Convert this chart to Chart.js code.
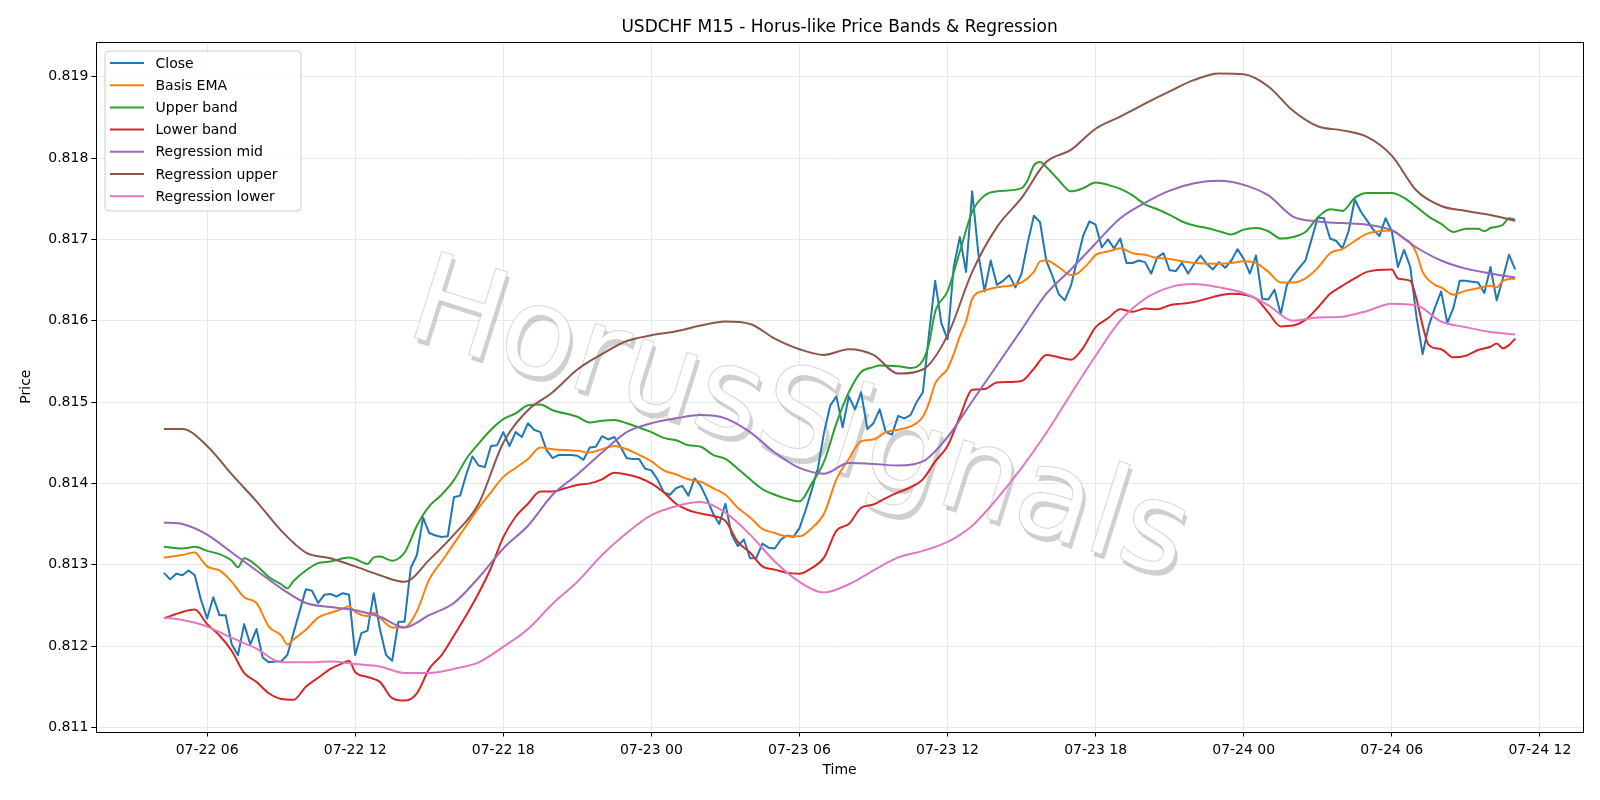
<!DOCTYPE html>
<html>
<head>
<meta charset="utf-8">
<title>USDCHF M15 - Horus-like Price Bands & Regression</title>
<script src="https://cdn.jsdelivr.net/npm/chart.js@4.4.0/dist/chart.umd.min.js"></script>
<style>
  html, body { margin: 0; padding: 0; background: #fff; }
  #wrap { width: 1600px; height: 800px; }
</style>
</head>
<body>
<div id="wrap"><canvas id="chart" width="1600" height="800"></canvas></div>
<script>
// time axis: hours counted from 07-22 00:00, one bar every 15 minutes
const closeStartHour = 4.25;
const barHours = 0.25;

const xTickHours = [6, 12, 18, 24, 30, 36, 42, 48, 54, 60];
const xTickLabels = ['07-22 06', '07-22 12', '07-22 18', '07-23 00', '07-23 06',
                     '07-23 12', '07-23 18', '07-24 00', '07-24 06', '07-24 12'];
const yTickVals = [0.811, 0.812, 0.813, 0.814, 0.815, 0.816, 0.817, 0.818, 0.819];
const yTickLabels = ['0.811', '0.812', '0.813', '0.814', '0.815', '0.816', '0.817', '0.818', '0.819'];

const closeVals = [
  0.81290,0.81282,0.81289,0.81287,0.81293,0.81287,0.81257,0.81234,0.81260,0.81238,
  0.81238,0.81202,0.81189,0.81227,0.81202,0.81221,0.81186,0.81180,0.81181,0.81181,
  0.81189,0.81216,0.81243,0.81270,0.81268,0.81253,0.81263,0.81264,0.81261,0.81265,
  0.81263,0.81189,0.81216,0.81219,0.81265,0.81221,0.81189,0.81182,0.81230,0.81230,
  0.81296,0.81312,0.81358,0.81339,0.81336,0.81334,0.81335,0.81383,0.81385,0.81411,
  0.81433,0.81422,0.81420,0.81446,0.81447,0.81463,0.81446,0.81463,0.81457,0.81474,
  0.81466,0.81463,0.81441,0.81431,0.81435,0.81435,0.81435,0.81434,0.81429,0.81444,
  0.81445,0.81458,0.81454,0.81457,0.81445,0.81431,0.81430,0.81430,0.81418,0.81416,
  0.81405,0.81389,0.81386,0.81394,0.81397,0.81385,0.81406,0.81397,0.81381,0.81363,
  0.81350,0.81375,0.81337,0.81323,0.81331,0.81308,0.81308,0.81326,0.81321,0.81320,
  0.81331,0.81336,0.81334,0.81345,0.81367,0.81392,0.81419,0.81463,0.81496,0.81507,
  0.81469,0.81507,0.81491,0.81512,0.81467,0.81474,0.81491,0.81463,0.81460,0.81483,
  0.81480,0.81484,0.81500,0.81512,0.81584,0.81649,0.81597,0.81577,0.81666,0.81703,
  0.81660,0.81759,0.81682,0.81636,0.81674,0.81644,0.81649,0.81656,0.81641,0.81658,
  0.81696,0.81729,0.81721,0.81674,0.81655,0.81633,0.81625,0.81643,0.81674,0.81705,
  0.81722,0.81718,0.81690,0.81700,0.81689,0.81701,0.81671,0.81671,0.81674,0.81672,
  0.81658,0.81678,0.81683,0.81662,0.81661,0.81671,0.81658,0.81670,0.81680,0.81670,
  0.81663,0.81672,0.81665,0.81674,0.81688,0.81676,0.81658,0.81680,0.81627,0.81626,
  0.81638,0.81608,0.81644,0.81655,0.81665,0.81674,0.81700,0.81727,0.81726,0.81701,
  0.81698,0.81689,0.81710,0.81749,0.81734,0.81723,0.81712,0.81704,0.81726,0.81710,
  0.81666,0.81687,0.81666,0.81605,0.81559,0.81594,0.81616,0.81636,0.81597,0.81616,
  0.81649,0.81649,0.81648,0.81647,0.81634,0.81666,0.81625,0.81652,0.81681,0.81663
];

const basisHours = [4.25,5,5.5,5.75,6,6.5,7,7.5,8,8.5,9,9.25,9.5,10,10.5,11,11.5,11.75,12,12.5,
  12.75,13,13.5,14,14.5,15,15.5,16,16.5,17,17.5,18,18.5,19,19.5,20,21,21.5,22,22.5,
  23,23.5,24,24.5,25,25.5,26,26.5,27,27.5,28,28.5,29,29.5,30,30.5,31,31.5,32,32.5,
  33,33.5,34,34.5,35,35.25,35.5,36,36.25,36.5,36.75,37,37.5,38,38.5,39,39.5,39.75,40,40.5,
  41,41.25,41.75,42,42.5,43,43.5,44,44.5,45,45.5,46,47,47.5,48,48.5,49,49.5,50,50.5,
  51,51.5,52,52.5,53,53.5,54,54.5,54.75,55,55.25,55.75,56,56.5,57,57.5,58,58.25,58.5,59];
const basisVals = [0.81309,0.81312,0.81315,0.81307,0.81298,0.81293,0.81279,0.81260,0.81253,0.81224,
  0.81213,0.81202,0.81208,0.81220,0.81235,0.81241,0.81246,0.81249,0.81242,0.81237,
  0.81241,0.81235,0.81223,0.81223,0.81243,0.81282,0.81304,0.81326,0.81348,0.81370,
  0.81389,0.81408,0.81419,0.81430,0.81444,0.81442,0.81440,0.81438,0.81442,0.81446,
  0.81442,0.81435,0.81427,0.81416,0.81411,0.81405,0.81402,0.81394,0.81386,0.81370,
  0.81358,0.81344,0.81339,0.81335,0.81335,0.81345,0.81363,0.81405,0.81430,0.81452,
  0.81454,0.81463,0.81466,0.81470,0.81482,0.81499,0.81523,0.81541,0.81559,0.81581,
  0.81599,0.81627,0.81637,0.81641,0.81643,0.81647,0.81660,0.81673,0.81674,0.81666,
  0.81656,0.81658,0.81672,0.81681,0.81685,0.81689,0.81683,0.81681,0.81677,0.81676,
  0.81673,0.81671,0.81670,0.81671,0.81673,0.81671,0.81660,0.81647,0.81647,0.81652,
  0.81665,0.81683,0.81688,0.81698,0.81707,0.81710,0.81711,0.81701,0.81696,0.81683,
  0.81660,0.81644,0.81641,0.81632,0.81637,0.81640,0.81643,0.81641,0.81649,0.81652];

const upperHours = [4.25,5,5.5,6,6.5,7,7.25,7.5,8,8.5,9,9.25,9.5,10,10.5,11,11.75,12,12.5,12.75,
  13,13.5,14,14.5,15,15.5,16,16.5,17,17.5,18,18.5,19,19.5,20,21,21.5,22,22.5,23,
  24,24.5,25,25.5,26,26.5,27,27.5,28,28.5,29,29.5,30,30.5,31,31.5,32,32.5,33,33.25,
  34,34.5,35,35.25,35.5,36,36.5,37,37.5,38,39,39.25,39.5,39.75,40,40.5,41,41.5,42,42.5,
  43,43.5,44,44.5,45,45.5,46,46.5,47,47.5,48,48.5,49,49.5,50,50.5,51,51.5,52,52.5,
  53,53.5,54,54.5,55,55.5,56,56.5,57,57.5,57.75,58,58.5,58.75,59];
const upperVals = [0.81322,0.81320,0.81322,0.81317,0.81313,0.81305,0.81297,0.81308,0.81299,0.81285,
  0.81276,0.81271,0.81280,0.81293,0.81302,0.81304,0.81309,0.81307,0.81301,0.81309,
  0.81310,0.81305,0.81315,0.81348,0.81372,0.81386,0.81404,0.81430,0.81449,0.81466,
  0.81479,0.81486,0.81496,0.81497,0.81490,0.81482,0.81475,0.81477,0.81478,0.81474,
  0.81463,0.81456,0.81453,0.81447,0.81445,0.81435,0.81430,0.81418,0.81405,0.81393,
  0.81386,0.81381,0.81378,0.81400,0.81427,0.81474,0.81512,0.81537,0.81543,0.81545,
  0.81544,0.81542,0.81551,0.81572,0.81611,0.81636,0.81685,0.81734,0.81754,0.81759,
  0.81763,0.81773,0.81791,0.81795,0.81789,0.81773,0.81759,0.81763,0.81770,0.81767,
  0.81762,0.81754,0.81743,0.81737,0.81730,0.81722,0.81717,0.81714,0.81710,0.81706,
  0.81712,0.81714,0.81710,0.81701,0.81703,0.81709,0.81727,0.81737,0.81735,0.81751,
  0.81757,0.81757,0.81757,0.81751,0.81740,0.81728,0.81719,0.81709,0.81713,0.81713,
  0.81710,0.81714,0.81718,0.81726,0.81724];

const lowerHours = [4.25,5,5.5,6,6.5,7,7.5,8,8.5,9,9.5,10,10.5,11,11.5,11.75,12,12.5,13,13.5,
  14,14.5,15,15.5,16,16.5,17,17.5,18,18.5,19,19.5,20,20.5,21,21.5,22,22.5,23,23.5,
  24,24.5,25,25.5,26,26.5,27,27.5,28,28.5,29,29.5,30,30.5,31,31.5,32,32.5,33,33.5,
  34,34.5,35,35.5,36,36.5,37,37.5,38,39,39.5,40,40.5,41,41.5,42,42.5,43,43.5,44,
  44.5,45,45.5,46,46.5,47,47.5,48,48.5,49,49.5,50,50.5,51,51.5,52,52.5,53,54,54.25,
  54.75,55,55.25,55.5,56,56.5,57,57.5,58,58.25,58.5,58.75,59];
const lowerVals = [0.81234,0.81242,0.81245,0.81227,0.81213,0.81194,0.81167,0.81156,0.81142,0.81135,
  0.81134,0.81150,0.81161,0.81172,0.81179,0.81182,0.81168,0.81162,0.81156,0.81136,
  0.81133,0.81142,0.81172,0.81189,0.81213,0.81238,0.81265,0.81296,0.81334,0.81359,
  0.81375,0.81390,0.81390,0.81394,0.81398,0.81400,0.81405,0.81413,0.81411,0.81407,
  0.81400,0.81389,0.81375,0.81367,0.81363,0.81360,0.81354,0.81328,0.81315,0.81298,
  0.81294,0.81290,0.81289,0.81296,0.81309,0.81342,0.81350,0.81370,0.81374,0.81382,
  0.81389,0.81395,0.81405,0.81427,0.81446,0.81482,0.81515,0.81516,0.81524,0.81526,
  0.81541,0.81558,0.81555,0.81552,0.81567,0.81592,0.81603,0.81614,0.81611,0.81615,
  0.81614,0.81619,0.81621,0.81623,0.81627,0.81631,0.81633,0.81632,0.81627,0.81610,
  0.81593,0.81594,0.81601,0.81616,0.81633,0.81643,0.81652,0.81660,0.81663,0.81652,
  0.81649,0.81627,0.81594,0.81570,0.81565,0.81555,0.81557,0.81564,0.81568,0.81572,
  0.81566,0.81570,0.81578];

const regHours = [4.25,5,6,7,8,9,10,11,12,13,14,15,16,17,18,19,20,21,22,23,
  24,25,26,27,28,29,30,31,32,33,34,35,36,37,38,39,40,41,42,43,
  44,45,46,47,48,49,50,51,52,53,54,55,56,57,58,59];
const regMidVals = [0.81352,0.81350,0.81337,0.81315,0.81293,0.81271,0.81253,0.81248,0.81244,0.81236,
  0.81223,0.81238,0.81253,0.81284,0.81320,0.81348,0.81386,0.81411,0.81438,0.81463,
  0.81474,0.81480,0.81484,0.81480,0.81463,0.81438,0.81419,0.81412,0.81425,0.81424,
  0.81422,0.81427,0.81457,0.81501,0.81545,0.81589,0.81633,0.81663,0.81695,0.81726,
  0.81745,0.81760,0.81769,0.81772,0.81767,0.81754,0.81728,0.81722,0.81720,0.81718,
  0.81711,0.81690,0.81674,0.81664,0.81658,0.81653];
const regUpperVals = [0.81467,0.81467,0.81446,0.81411,0.81378,0.81342,0.81315,0.81308,0.81298,0.81287,
  0.81279,0.81306,0.81337,0.81375,0.81450,0.81490,0.81512,0.81540,0.81559,0.81575,
  0.81582,0.81587,0.81594,0.81599,0.81596,0.81578,0.81565,0.81558,0.81565,0.81558,
  0.81535,0.81540,0.81582,0.81660,0.81715,0.81751,0.81795,0.81810,0.81836,0.81851,
  0.81867,0.81882,0.81896,0.81904,0.81903,0.81888,0.81858,0.81839,0.81834,0.81826,
  0.81803,0.81760,0.81741,0.81735,0.81730,0.81723];
const regLowerVals = [0.81235,0.81232,0.81224,0.81210,0.81197,0.81180,0.81180,0.81181,0.81178,0.81175,
  0.81167,0.81167,0.81172,0.81180,0.81199,0.81221,0.81252,0.81279,0.81312,0.81339,
  0.81361,0.81372,0.81377,0.81364,0.81337,0.81304,0.81279,0.81266,0.81276,0.81293,
  0.81309,0.81317,0.81328,0.81348,0.81381,0.81419,0.81462,0.81510,0.81557,0.81600,
  0.81627,0.81641,0.81645,0.81641,0.81634,0.81619,0.81600,0.81604,0.81605,0.81612,
  0.81621,0.81619,0.81599,0.81592,0.81586,0.81583];

const FONT = "'DejaVu Sans', 'Liberation Sans', sans-serif";
Chart.defaults.font.family = FONT;
Chart.defaults.color = '#000';

function pairUp(hours, vals) {
  return hours.map((h, i) => ({ x: h, y: vals[i] }));
}
const closePts = closeVals.map((v, i) => ({ x: closeStartHour + i * barHours, y: v }));

function line(label, color, data, order, smooth) {
  return {
    label: label,
    data: data,
    borderColor: color,
    backgroundColor: color,
    borderWidth: 2,
    pointRadius: 0,
    fill: false,
    order: order,
    borderJoinStyle: 'round',
    cubicInterpolationMode: smooth ? 'monotone' : 'default',
    tension: 0
  };
}

const datasets = [
  line('Close', '#1f77b4', closePts, 7, false),
  line('Basis EMA', '#ff7f0e', pairUp(basisHours, basisVals), 6, true),
  line('Upper band', '#2ca02c', pairUp(upperHours, upperVals), 5, true),
  line('Lower band', '#d62728', pairUp(lowerHours, lowerVals), 4, true),
  line('Regression mid', '#9467bd', pairUp(regHours, regMidVals), 3, true),
  line('Regression upper', '#8c564b', pairUp(regHours, regUpperVals), 2, true),
  line('Regression lower', '#e377c2', pairUp(regHours, regLowerVals), 1, true)
];

// title, watermark, frame and the boxed legend in the top left corner
const decorations = {
  id: 'decorations',
  beforeDatasetsDraw(chart) {
    const ctx = chart.ctx;
    ctx.save();
    ctx.beginPath();
    const a = chart.chartArea;
    ctx.rect(a.left, a.top, a.right - a.left, a.bottom - a.top);
    ctx.clip();
    ctx.translate(403, 334);
    ctx.rotate(17.5 * Math.PI / 180);
    ctx.font = "124px " + FONT;
    ctx.textBaseline = 'alphabetic';
    ctx.fillStyle = 'rgba(150,150,150,0.45)';
    ctx.fillText('HorusSignals', 4, 4);
    ctx.fillStyle = '#ffffff';
    ctx.fillText('HorusSignals', 0, 0);
    ctx.strokeStyle = 'rgba(200,200,200,0.7)';
    ctx.lineWidth = 1;
    ctx.strokeText('HorusSignals', 0, 0);
    ctx.restore();
  },
  afterDatasetsDraw(chart) {
    const ctx = chart.ctx;
    const a = chart.chartArea;
    ctx.save();
    ctx.strokeStyle = '#000';
    ctx.lineWidth = 1;
    ctx.strokeRect(Math.round(a.left) + 0.5, Math.round(a.top) + 0.5,
                   Math.round(a.right - a.left), Math.round(a.bottom - a.top));
    ctx.restore();
  },
  afterDraw(chart) {
    const ctx = chart.ctx;
    const a = chart.chartArea;
    ctx.save();
    ctx.fillStyle = '#000';
    ctx.font = "17px " + FONT;
    ctx.textAlign = 'center';
    ctx.textBaseline = 'alphabetic';
    ctx.fillText('USDCHF M15 - Horus-like Price Bands & Regression', (a.left + a.right) / 2, 32);

    // legend
    const bx = 105, by = 51, bw = 196, bh = 160, r = 4;
    ctx.beginPath();
    ctx.moveTo(bx + r, by);
    ctx.arcTo(bx + bw, by, bx + bw, by + bh, r);
    ctx.arcTo(bx + bw, by + bh, bx, by + bh, r);
    ctx.arcTo(bx, by + bh, bx, by, r);
    ctx.arcTo(bx, by, bx + bw, by, r);
    ctx.closePath();
    ctx.fillStyle = 'rgba(255,255,255,0.8)';
    ctx.fill();
    ctx.strokeStyle = '#cccccc';
    ctx.lineWidth = 1;
    ctx.stroke();

    ctx.font = "14px " + FONT;
    ctx.textAlign = 'left';
    ctx.textBaseline = 'middle';
    chart.data.datasets.forEach((ds, i) => {
      const y = 63 + i * 22.2;
      ctx.strokeStyle = ds.borderColor;
      ctx.lineWidth = 2;
      ctx.beginPath();
      ctx.moveTo(110, y);
      ctx.lineTo(144, y);
      ctx.stroke();
      ctx.fillStyle = '#000';
      ctx.fillText(ds.label, 155.5, y + 1);
    });
    ctx.restore();
  }
};

new Chart(document.getElementById('chart'), {
  type: 'line',
  data: { datasets: datasets },
  options: {
    responsive: false,
    animation: false,
    devicePixelRatio: 1,
    parsing: true,
    layout: { padding: { left: 0, right: 17.2, top: 41.7, bottom: 0 } },
    plugins: {
      legend: { display: false },
      title: { display: false },
      tooltip: { enabled: false }
    },
    scales: {
      x: {
        type: 'linear',
        min: 1.51,
        max: 61.74,
        afterBuildTicks: (s) => { s.ticks = xTickHours.map(v => ({ value: v })); },
        afterFit: (s) => { s.height = 68.5; },
        ticks: {
          autoSkip: false,
          maxRotation: 0,
          padding: 5,
          font: { size: 14 },
          color: '#000',
          callback: (v, i) => xTickLabels[i]
        },
        grid: { color: '#e8e8e8', lineWidth: 1, tickLength: 5, tickColor: '#000', tickWidth: 1 },
        border: { display: false },
        title: { display: true, text: 'Time', font: { size: 14 }, color: '#000', padding: { top: 0, bottom: 21.6 } }
      },
      y: {
        type: 'linear',
        min: 0.81095,
        max: 0.81943,
        afterBuildTicks: (s) => { s.ticks = yTickVals.map(v => ({ value: v })); },
        afterFit: (s) => { s.width = 96.3; },
        ticks: {
          autoSkip: false,
          padding: 3,
          font: { size: 14 },
          color: '#000',
          callback: (v, i) => yTickLabels[i]
        },
        grid: { color: '#e8e8e8', lineWidth: 1, tickLength: 5, tickColor: '#000', tickWidth: 1 },
        border: { display: false },
        title: { display: true, text: 'Price', font: { size: 14 }, color: '#000', padding: { top: 17.6, bottom: 0 } }
      }
    }
  },
  plugins: [decorations]
});
</script>
</body>
</html>
